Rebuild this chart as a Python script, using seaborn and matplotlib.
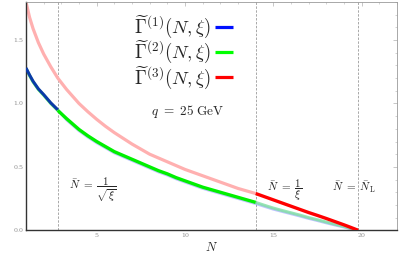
import matplotlib
matplotlib.use("Agg")
import matplotlib.pyplot as plt
import seaborn as sns
import numpy as np
import pandas as pd
from matplotlib.ticker import MultipleLocator

# ---- data ----
N_vals = [1.0, 1.2, 1.4, 1.7, 2.0, 2.4, 2.8, 3.3, 4.0, 4.5, 5.0, 5.5, 6.0, 6.5, 7.0,
          7.5, 8.0, 8.5, 9.0, 9.5, 10.0, 10.5, 11.0, 11.5, 12.0, 12.5, 13.0, 13.5,
          14.0, 14.5, 15.0, 15.5, 16.0, 16.5, 17.0, 17.5, 18.0, 18.5, 19.0, 19.4, 19.8]
gamma2 = [1.275, 1.22, 1.17, 1.11, 1.065, 1.00, 0.945, 0.88, 0.795, 0.745, 0.70, 0.66,
          0.62, 0.59, 0.56, 0.53, 0.50, 0.47, 0.445, 0.415, 0.39, 0.365, 0.34, 0.32,
          0.30, 0.28, 0.26, 0.24, 0.22, 0.197, 0.175, 0.156, 0.138, 0.12, 0.10, 0.083,
          0.065, 0.047, 0.03, 0.015, 0.0]
gamma1 = [1.28, 1.225, 1.175, 1.115, 1.07, 1.005, 0.95, 0.87, 0.785, 0.735, 0.69, 0.65,
          0.61, 0.58, 0.55, 0.52, 0.49, 0.46, 0.435, 0.405, 0.38, 0.355, 0.33, 0.31,
          0.29, 0.27, 0.25, 0.23, 0.21, 0.188, 0.166, 0.148, 0.13, 0.112, 0.093, 0.076,
          0.058, 0.041, 0.025, 0.012, 0.0]
gamma3 = [1.80, 1.68, 1.59, 1.48, 1.39, 1.29, 1.20, 1.11, 1.00, 0.935, 0.875, 0.82,
          0.77, 0.725, 0.68, 0.64, 0.60, 0.57, 0.54, 0.51, 0.48, 0.455, 0.43, 0.405,
          0.38, 0.355, 0.33, 0.31, 0.29, 0.265, 0.24, 0.215, 0.19, 0.165, 0.14, 0.117,
          0.093, 0.068, 0.043, 0.022, 0.0]
N_sqrt = 2.8     # 1/sqrt(xi)
N_inv = 14.0     # 1/xi
N_L = 19.8
x_ticks = [5, 10, 15, 20]
y_ticks = [0.0, 0.5, 1.0, 1.5]

df = pd.DataFrame({"N": N_vals, "g1": gamma1, "g2": gamma2, "g3": gamma3})

sns.set_style("white")
plt.rcParams["mathtext.fontset"] = "cm"
plt.rcParams["font.family"] = ["DejaVu Serif"]

fig = plt.figure(figsize=(3.99, 2.56), dpi=100)
ax = fig.add_axes([26/399, 1-230.3/256, (397-26)/399, (230.3-2)/256])

def seg(col, lo, hi, color, lw=2.2, alpha=1.0, z=2):
    d = df[(df["N"] >= lo - 1e-9) & (df["N"] <= hi + 1e-9)]
    sns.lineplot(data=d, x="N", y=col, ax=ax, color=color, lw=lw, alpha=alpha,
                 estimator=None, sort=False, zorder=z, solid_capstyle="butt")

# faded parts
seg("g1", N_sqrt, N_L, "#6f7cff", lw=2.0, alpha=0.45, z=1)
seg("g2", 1.0, N_sqrt, "#00ff00", lw=2.2, alpha=0.6, z=1)
seg("g2", N_inv, N_L, "#7fe0a0", lw=2.2, alpha=0.8, z=1.5)
seg("g3", 1.0, N_inv, "#ffb0b0", lw=2.3, alpha=1.0, z=1)
# solid parts
seg("g1", 1.0, N_sqrt, "#0b3aa8", lw=2.2, z=3)
seg("g2", N_sqrt, N_inv, "#00f000", lw=2.4, z=3)
seg("g3", N_inv, N_L, "#ff0000", lw=2.4, z=3)

for xv in [N_sqrt, N_inv, N_L]:
    ax.axvline(xv, color="#a8a8a8", lw=0.7, ls=(0, (2.5, 1.5)), zorder=0.5)

ax.set_xlim(1, 22)
ax.set_ylim(0, 1.8)
ax.set_xticks(x_ticks)
ax.set_yticks(y_ticks)
ax.set_xticklabels([str(t) for t in x_ticks])
ax.set_yticklabels([f"{t:.1f}" for t in y_ticks])
ax.xaxis.set_minor_locator(MultipleLocator(1))
ax.yaxis.set_minor_locator(MultipleLocator(0.1))
ax.tick_params(which="both", direction="in", top=True, right=True, colors="#b0b0b0",
               labelcolor="#909090", labelsize=4.5, pad=2)
ax.tick_params(which="major", length=3, width=0.5)
ax.tick_params(which="minor", length=1.5, width=0.4)
ax.set_xlabel(r"$N$", fontsize=9, labelpad=2)
ax.set_ylabel("")
for s in ["left", "bottom"]:
    ax.spines[s].set_color("#333333")
    ax.spines[s].set_linewidth(1.0)
for s in ["top", "right"]:
    ax.spines[s].set_color("#9a9a9a")
    ax.spines[s].set_linewidth(0.6)

def ax_xy(px, py):
    return ((px - 26) / 371.0, (230.3 - py) / 228.3)

labels = [r"$\widetilde{\Gamma}^{(1)}(N,\xi)$", r"$\widetilde{\Gamma}^{(2)}(N,\xi)$",
          r"$\widetilde{\Gamma}^{(3)}(N,\xi)$"]
lcolors = ["#0010ff", "#00ff00", "#ff0000"]
for lab, c, py in zip(labels, lcolors, [26.7, 51.7, 77.3]):
    x0, y0 = ax_xy(211, py)
    ax.text(x0, y0, lab, transform=ax.transAxes, ha="right", va="center", fontsize=13.5)
    xa, _ = ax_xy(215, py)
    xb, _ = ax_xy(233, py)
    ax.plot([xa, xb], [y0, y0], transform=ax.transAxes, color=c, lw=2.3,
            solid_capstyle="butt")

x0, y0 = ax_xy(188, 111.7)
ax.text(x0, y0, r"$q\ =\ 25\ \mathrm{GeV}$", transform=ax.transAxes, ha="center",
        va="center", fontsize=9.5)
x0, y0 = ax_xy(93, 190)
ax.text(x0, y0, r"$\bar{N}\ =\ \dfrac{1}{\sqrt{\xi}}$", transform=ax.transAxes,
        ha="center", va="center", fontsize=8)
x0, y0 = ax_xy(285, 190)
ax.text(x0, y0, r"$\bar{N}\ =\ \dfrac{1}{\xi}$", transform=ax.transAxes, ha="center",
        va="center", fontsize=8)
x0, y0 = ax_xy(354, 187)
ax.text(x0, y0, r"$\bar{N}\ =\ \bar{N}_{\mathrm{L}}$", transform=ax.transAxes,
        ha="center", va="center", fontsize=8)

fig.savefig("out.png", dpi=100)
